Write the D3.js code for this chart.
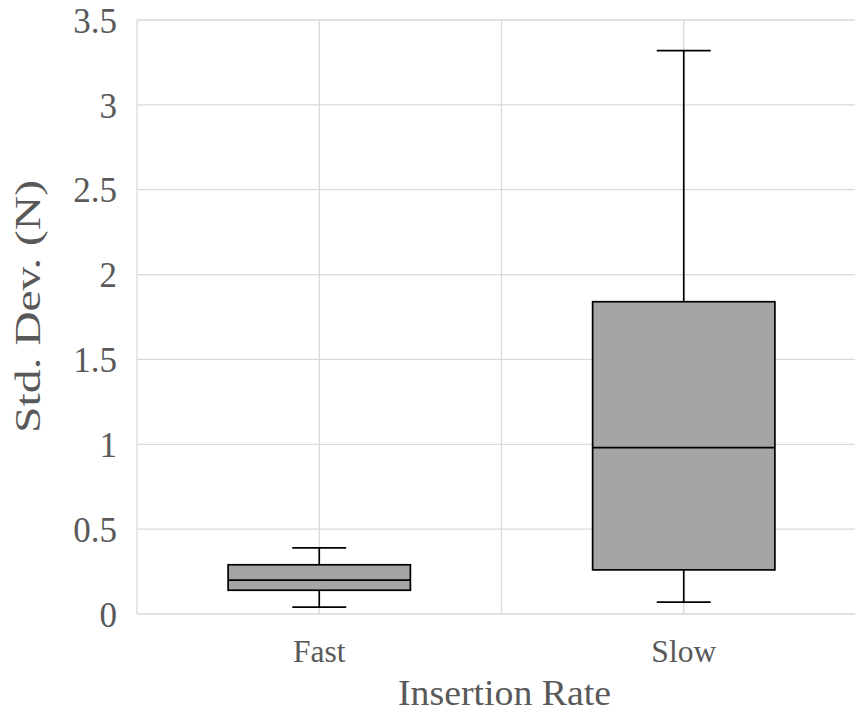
<!DOCTYPE html>
<html>
<head>
<meta charset="utf-8">
<script src="https://cdn.jsdelivr.net/npm/d3@7"></script>
<style>
  html, body { margin: 0; padding: 0; background: #fff; }
  svg { display: block; }
  svg text { font-family: "Liberation Serif", Tinos, "Times New Roman", "DejaVu Serif", serif; }
</style>
</head>
<body>
<script>
const categories = ["Fast", "Slow"];
const whiskerLow = [0.04, 0.07];
const q1 = [0.14, 0.26];
const median = [0.2, 0.98];
const q3 = [0.29, 1.84];
const whiskerHigh = [0.39, 3.32];
const yTicks = [0, 0.5, 1, 1.5, 2, 2.5, 3, 3.5];
const xTitle = "Insertion Rate";
const yTitle = "Std. Dev. (N)";

const W = 855, H = 726;
const mLeft = 137, mTop = 20, mBottom = 614, mRight = 866;

const svg = d3.select("body").append("svg").attr("width", W).attr("height", H);

const x = d3.scaleBand().domain(categories).range([mLeft, mRight]);
const y = d3.scaleLinear().domain([0, 3.5]).range([mBottom, mTop]);

const txt = "#595959";
const grid = "#d9d9d9";

// horizontal gridlines
svg.append("g").selectAll("line").data(yTicks).join("line")
  .attr("x1", mLeft).attr("x2", mRight)
  .attr("y1", d => y(d)).attr("y2", d => y(d))
  .attr("stroke", grid).attr("stroke-width", 1.3);

// vertical gridlines: band edges and centers
const vlines = [];
categories.forEach(c => { vlines.push(x(c)); vlines.push(x(c) + x.bandwidth() / 2); });
vlines.push(x(categories[categories.length - 1]) + x.bandwidth());
svg.append("g").selectAll("line").data(vlines).join("line")
  .attr("x1", d => d).attr("x2", d => d)
  .attr("y1", mTop).attr("y2", mBottom)
  .attr("stroke", grid).attr("stroke-width", 1.3);

// boxes
const boxW = x.bandwidth() * 0.5;
const capW = x.bandwidth() * 0.148;
const data = categories.map((c, i) => ({ c, lo: whiskerLow[i], q1: q1[i], med: median[i], q3: q3[i], hi: whiskerHigh[i] }));

const g = svg.append("g").selectAll("g").data(data).join("g");
const cx = d => x(d.c) + x.bandwidth() / 2;
const sw = 1.7;

// whiskers
g.append("line").attr("x1", cx).attr("x2", cx).attr("y1", d => y(d.q3)).attr("y2", d => y(d.hi))
  .attr("stroke", "#000").attr("stroke-width", sw);
g.append("line").attr("x1", cx).attr("x2", cx).attr("y1", d => y(d.q1)).attr("y2", d => y(d.lo))
  .attr("stroke", "#000").attr("stroke-width", sw);
g.append("line").attr("x1", d => cx(d) - capW / 2).attr("x2", d => cx(d) + capW / 2)
  .attr("y1", d => y(d.hi)).attr("y2", d => y(d.hi))
  .attr("stroke", "#000").attr("stroke-width", sw);
g.append("line").attr("x1", d => cx(d) - capW / 2).attr("x2", d => cx(d) + capW / 2)
  .attr("y1", d => y(d.lo)).attr("y2", d => y(d.lo))
  .attr("stroke", "#000").attr("stroke-width", sw);
// box
g.append("rect").attr("x", d => cx(d) - boxW / 2).attr("width", boxW)
  .attr("y", d => y(d.q3)).attr("height", d => y(d.q1) - y(d.q3))
  .attr("fill", "#a5a5a5").attr("stroke", "#000").attr("stroke-width", sw);
// median
g.append("line").attr("x1", d => cx(d) - boxW / 2).attr("x2", d => cx(d) + boxW / 2)
  .attr("y1", d => y(d.med)).attr("y2", d => y(d.med))
  .attr("stroke", "#000").attr("stroke-width", sw);

// y axis
const yAxis = svg.append("g").attr("transform", `translate(${mLeft},0)`)
  .call(d3.axisLeft(y).tickValues(yTicks).tickFormat(d3.format("")).tickSize(0).tickPadding(20));
yAxis.select(".domain").remove();
yAxis.attr("font-family", null);
yAxis.selectAll("text").attr("font-size", 35).attr("fill", txt).attr("dy", "0.35em");

// x axis
const xAxis = svg.append("g").attr("transform", `translate(0,${mBottom})`)
  .call(d3.axisBottom(x).tickSize(0).tickPadding(0));
xAxis.select(".domain").remove();
xAxis.attr("font-family", null);
xAxis.selectAll("text").attr("font-size", 31.5).attr("fill", txt)
  .attr("y", 48).attr("dy", 0);

// axis titles
svg.append("text").attr("x", 504.5).attr("y", 705).attr("text-anchor", "middle")
  .attr("font-size", 35).attr("fill", txt)
  .attr("textLength", 213).attr("lengthAdjust", "spacingAndGlyphs")
  .text(xTitle);

svg.append("text").attr("transform", "translate(40,306.5) rotate(-90)").attr("text-anchor", "middle")
  .attr("font-size", 35).attr("fill", txt)
  .attr("textLength", 253).attr("lengthAdjust", "spacingAndGlyphs")
  .text(yTitle);
</script>
</body>
</html>
